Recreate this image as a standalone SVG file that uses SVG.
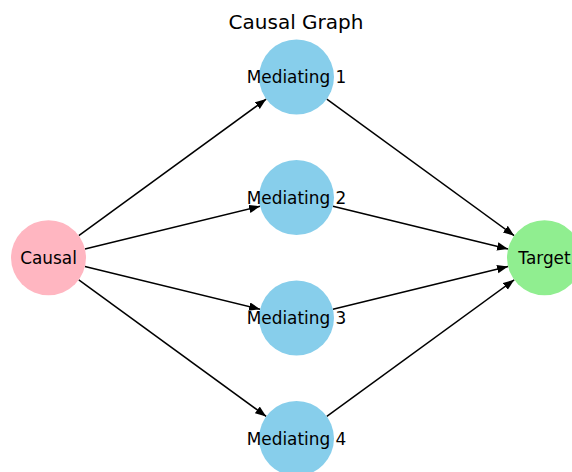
<svg xmlns="http://www.w3.org/2000/svg" width="572" height="472" viewBox="0 0 572 472">
<style>
.edge{stroke:#000;stroke-width:1.5;fill:none;marker-end:url(#ah)}
.lbl{font-family:"DejaVu Sans",sans-serif;font-size:16.9px;fill:#000;text-anchor:middle}
.med{fill:#87CEEB}
.title{font-family:"DejaVu Sans",sans-serif;font-size:20px;fill:#000;text-anchor:middle}
</style>
<defs>
<marker id="ah" markerUnits="userSpaceOnUse" markerWidth="12" markerHeight="9" refX="11" refY="4.2" orient="auto" viewBox="0 0 12 9">
<path d="M0,0 L11,4.2 L0,8.4 z" fill="#000"/>
</marker>
</defs>
<rect width="572" height="472" fill="#fff"/>
<text class="title" x="296" y="28.5">Causal Graph</text>
<g id="edges">
<line class="edge" x1="78.8" y1="235.66" x2="266.2" y2="99.09"/>
<line class="edge" x1="84.94" y1="248.9" x2="260.06" y2="206.35"/>
<line class="edge" x1="84.94" y1="266.6" x2="260.06" y2="309.15"/>
<line class="edge" x1="78.8" y1="279.84" x2="266.2" y2="416.41"/>
<line class="edge" x1="326.8" y1="99.09" x2="514.2" y2="235.66"/>
<line class="edge" x1="332.94" y1="206.35" x2="508.06" y2="248.9"/>
<line class="edge" x1="332.94" y1="309.15" x2="508.06" y2="266.6"/>
<line class="edge" x1="326.8" y1="416.41" x2="514.2" y2="279.84"/>
</g>
<g id="causal"><circle cx="48.5" cy="257.75" r="37.5" fill="#FFB6C1"/><text class="lbl" x="48.5" y="263.75">Causal</text></g>
<g id="mediating1"><circle class="med" cx="296.5" cy="77" r="37.5"/><text class="lbl" x="296.5" y="83">Mediating 1</text></g>
<g id="mediating2"><circle class="med" cx="296.5" cy="197.5" r="37.5"/><text class="lbl" x="296.5" y="203.5">Mediating 2</text></g>
<g id="mediating3"><circle class="med" cx="296.5" cy="318" r="37.5"/><text class="lbl" x="296.5" y="324">Mediating 3</text></g>
<g id="mediating4"><circle class="med" cx="296.5" cy="438.5" r="37.5"/><text class="lbl" x="296.5" y="444.5">Mediating 4</text></g>
<g id="target"><circle cx="544.5" cy="257.75" r="37.5" fill="#90EE90"/><text class="lbl" x="544.5" y="263.75">Target</text></g>
</svg>
